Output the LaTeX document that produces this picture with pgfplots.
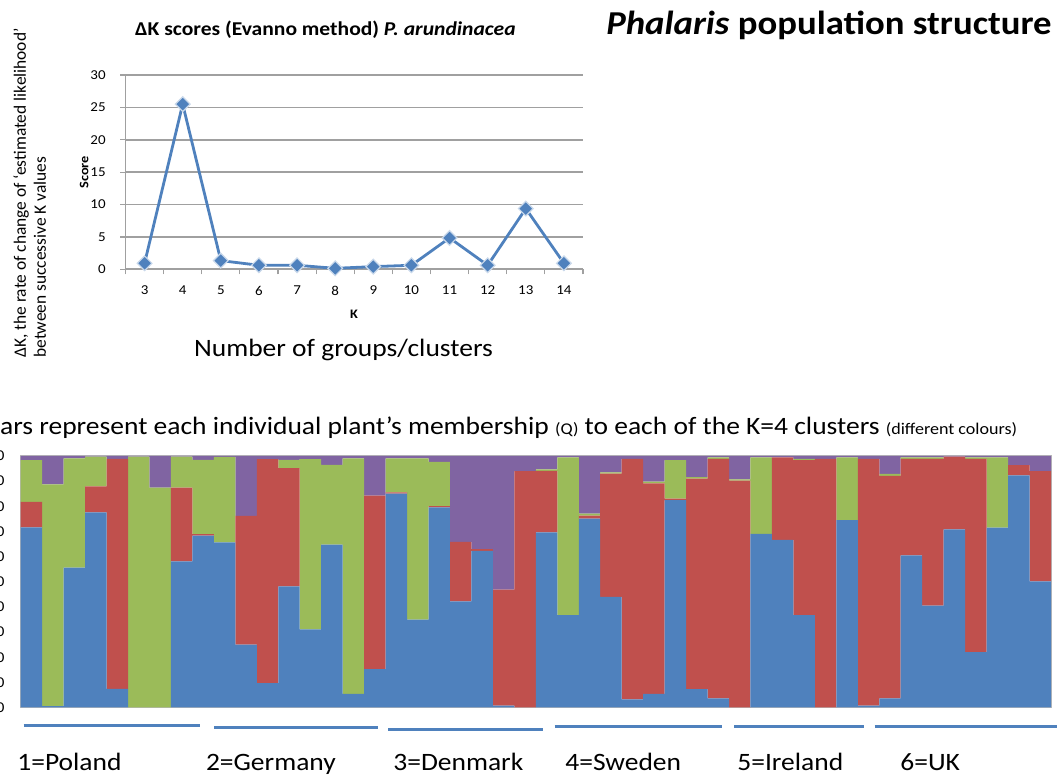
\documentclass[border=0pt]{standalone}
\usepackage{pgfplots}
\pgfplotsset{compat=1.18}
\usepackage{pgfplotstable}
\usepackage{fontspec}
\setmainfont{Carlito}[FakeStretch=1.1]
\newfontfamily\plainfont{Carlito}
\definecolor{cblue}{HTML}{4F81BD}
\definecolor{cred}{HTML}{C0504D}
\definecolor{cgreen}{HTML}{9BBB59}
\definecolor{cpurple}{HTML}{8064A2}
\definecolor{gridgray}{HTML}{A0A0A0}

\pgfplotstableread{
K score
3 0.93
4 25.5
5 1.34
6 0.62
7 0.62
8 0.15
9 0.41
10 0.62
11 4.84
12 0.62
13 9.37
14 0.93
}\deltak

\pgfplotstableread{
id blue red green purple
1 0.716 0.102 0.166 0.016
2 0.005 0.000 0.882 0.113
3 0.556 0.000 0.435 0.009
4 0.776 0.103 0.118 0.003
5 0.074 0.915 0.000 0.011
6 0.000 0.000 0.997 0.003
7 0.000 0.000 0.874 0.126
8 0.581 0.293 0.123 0.003
9 0.683 0.006 0.296 0.015
10 0.657 0.000 0.339 0.004
11 0.250 0.512 0.000 0.238
12 0.097 0.891 0.000 0.012
13 0.482 0.470 0.033 0.015
14 0.311 0.000 0.677 0.012
15 0.648 0.000 0.317 0.035
16 0.054 0.000 0.937 0.009
17 0.153 0.689 0.000 0.158
18 0.850 0.005 0.136 0.009
19 0.349 0.000 0.642 0.009
20 0.796 0.005 0.176 0.023
21 0.422 0.237 0.000 0.341
22 0.623 0.007 0.000 0.370
23 0.007 0.462 0.000 0.531
24 0.000 0.940 0.000 0.060
25 0.696 0.245 0.006 0.053
26 0.367 0.000 0.628 0.005
27 0.751 0.012 0.008 0.229
28 0.440 0.490 0.005 0.065
29 0.032 0.957 0.000 0.011
30 0.054 0.837 0.007 0.102
31 0.825 0.005 0.154 0.016
32 0.073 0.837 0.006 0.084
33 0.036 0.953 0.006 0.005
34 0.000 0.902 0.005 0.093
35 0.690 0.000 0.305 0.005
36 0.666 0.329 0.000 0.005
37 0.367 0.617 0.005 0.011
38 0.000 0.989 0.000 0.011
39 0.745 0.000 0.250 0.005
40 0.007 0.982 0.000 0.011
41 0.036 0.885 0.008 0.071
42 0.605 0.384 0.006 0.005
43 0.405 0.584 0.006 0.005
44 0.708 0.289 0.000 0.003
45 0.220 0.769 0.006 0.005
46 0.715 0.000 0.280 0.005
47 0.923 0.041 0.000 0.036
48 0.501 0.439 0.000 0.060
}\qdata

\begin{document}
\begin{tikzpicture}
\useasboundingbox (0,0) rectangle (528.5pt,388pt);
\clip (0,0) rectangle (528.5pt,388pt);

% ---- Delta K line chart ----
\begin{axis}[
  scale only axis, width=228.75pt, height=97.15pt,
  at={(62.75pt,253.35pt)}, anchor=south west,
  xmin=2.5, xmax=14.5, ymin=0, ymax=30,
  xtick={2.5,3.5,...,14.5}, xticklabels={},
  extra x ticks={3,4,5,6,7,8,9,10,11,12,13,14},
  extra x tick labels={3,4,5,6,7,8,9,10,11,12,13,14},
  extra x tick style={major tick length=0pt},
  ytick={0,5,10,15,20,25,30},
  axis x line*=bottom, axis y line*=left,
  axis line style={-, gridgray, line width=0.6pt},
  tick style={gridgray, line width=0.6pt},
  major tick length=2.5pt, tick align=outside,
  ymajorgrids, grid style={gridgray, line width=0.8pt},
  /pgf/number format/assume math mode=true,
  ticklabel style={font=\fontsize{6.8}{8}\selectfont, inner sep=0pt},
  xticklabel style={anchor=north, yshift=-8.1pt},
  yticklabel style={anchor=east, xshift=-7.25pt},
  title={\textbf{ΔK scores (Evanno method) \textit{P. arundinacea}}},
  title style={at={(axis description cs:0.437,1.139)}, anchor=base, inner sep=0pt, font=\fontsize{9.8}{11}\selectfont},
  xlabel={\textbf{K}},
  xlabel style={at={(axis description cs:0.4995,-0.251)}, anchor=base, inner sep=0pt, font=\fontsize{6.5}{8}\selectfont},
  ylabel={\textbf{Score}},
  ylabel style={at={(axis description cs:-0.081,0.5)}, anchor=base, inner sep=0pt, font=\fontsize{6.5}{8}\selectfont},
  clip=false,
]
\addplot[cblue, line width=1.4pt, mark=square*, mark size=2.6pt,
  mark options={rotate=45, fill=cblue, draw=white!70!cblue, line width=0.6pt}]
  table[x=K, y=score]{\deltak};
\end{axis}

% ---- Q membership stacked bars ----
\begin{axis}[
  scale only axis, width=515.15pt, height=125.75pt,
  at={(10.35pt,34.25pt)}, anchor=south west,
  ybar stacked, bar width=1,
  xmin=0.5, xmax=48.5, ymin=0, ymax=1,
  xtick=\empty,
  ytick={0,0.1,0.2,0.3,0.4,0.5,0.6,0.7,0.8,0.9,1},
  major tick length=0pt,
  axis line style={gray!55, line width=0.5pt},
  /pgf/number format/assume math mode=true,
  yticklabel style={/pgf/number format/.cd, fixed, fixed zerofill, precision=2, /tikz/.cd,
    font=\fontsize{7.5}{9}\selectfont, inner sep=0pt, anchor=east, xshift=-7.85pt},
  title={Bars represent each individual plant’s membership {\fontsize{8.2}{9}\selectfont (Q)} to each of the K=4 clusters {\fontsize{8.2}{9}\selectfont (different colours)}},
  title style={at={(axis description cs:0.9675,1.0358)}, anchor=base east, inner sep=0pt, font=\fontsize{12.5}{14}\selectfont},
]
\addplot[fill=cblue, draw=none] table[x=id, y=blue]{\qdata};
\addplot[fill=cred, draw=none] table[x=id, y=red]{\qdata};
\addplot[fill=cgreen, draw=none] table[x=id, y=green]{\qdata};
\addplot[fill=cpurple, draw=none] table[x=id, y=purple]{\qdata};
\end{axis}

% ---- texts ----
\node[anchor=base east, inner sep=0pt, font=\fontsize{16.7}{20}\selectfont\bfseries] at (526pt,370.5pt) {\textit{Phalaris} population structure};
\node[anchor=base, inner sep=0pt, font=\fontsize{12.5}{14}\selectfont] at (171.75pt,209.5pt) {Number of groups/clusters};
\node[rotate=90, anchor=base west, inner sep=0pt, font=\plainfont\fontsize{8.7}{10}\selectfont] at (13pt,209pt) {ΔK, the rate of change of ‘estimated likelihood’};
\node[rotate=90, anchor=base west, inner sep=0pt, font=\plainfont\fontsize{8.7}{10}\selectfont] at (23pt,209pt) {between successive K values};

% group bars under the plot
\draw[cblue, line width=1.5pt] (11.75pt,25pt) -- (100pt,25pt);
\draw[cblue, line width=1.5pt] (107pt,24.25pt) -- (188.75pt,24.25pt);
\draw[cblue, line width=1.5pt] (194pt,23.25pt) -- (271.25pt,23.25pt);
\draw[cblue, line width=1.5pt] (277.25pt,24.75pt) -- (361pt,24.75pt);
\draw[cblue, line width=1.5pt] (367pt,24.75pt) -- (431.75pt,24.75pt);
\draw[cblue, line width=1.5pt] (437.25pt,24.75pt) -- (528.5pt,24.75pt);

\begin{scope}[every node/.style={anchor=base west, inner sep=0pt, font=\fontsize{12.5}{14}\selectfont}]
\node at (8.5pt,2.5pt) {1=Poland};
\node at (102.8pt,2.5pt) {2=Germany};
\node at (196.5pt,2.5pt) {3=Denmark};
\node at (282.5pt,2.5pt) {4=Sweden};
\node at (368.5pt,2.5pt) {5=Ireland};
\node at (450pt,2.5pt) {6=UK};
\end{scope}
\end{tikzpicture}
\end{document}
